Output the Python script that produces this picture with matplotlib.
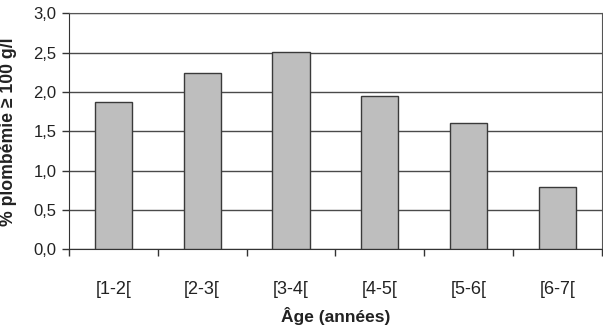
import numpy as np
import matplotlib.pyplot as plt
from matplotlib.ticker import FuncFormatter, FixedLocator

plt.rcParams['font.family'] = ['Liberation Sans', 'DejaVu Sans']

categories = ['[1-2[', '[2-3[', '[3-4[', '[4-5[', '[5-6[', '[6-7[']
values = [1.87, 2.24, 2.51, 1.95, 1.61, 0.79]

fig = plt.figure(figsize=(6.03, 3.26), dpi=100)
ax = fig.add_axes([0.1144, 0.2347, 0.8836, 0.7239])

x = np.arange(len(categories))
ax.bar(x, values, width=0.42, color='#bebebe', edgecolor='#3a3a3a', linewidth=1.0, zorder=3)

ax.set_xlim(-0.5, len(categories) - 0.5)
ax.set_ylim(0, 3.0)
ax.set_yticks(np.arange(0, 3.01, 0.5))
ax.yaxis.set_major_formatter(FuncFormatter(lambda v, p: f'{v:.1f}'.replace('.', ',')))
ax.grid(axis='y', color='#4a4a4a', linewidth=1.0, zorder=0)

# ticks at category boundaries, labels at centres
ax.xaxis.set_major_locator(FixedLocator(np.arange(-0.5, len(categories), 1.0)))
ax.xaxis.set_major_formatter(FuncFormatter(lambda v, p: ''))
ax.xaxis.set_minor_locator(FixedLocator(x))
ax.set_xticklabels(categories, minor=True)
ax.tick_params(axis='x', which='major', length=5, width=1, color='#333333', direction='out')
ax.tick_params(axis='x', which='minor', length=0, pad=23, labelsize=13, labelcolor='#222222')
ax.tick_params(axis='y', length=5, width=1, color='#333333', labelsize=12, labelcolor='#222222', pad=4)

for s in ['left', 'bottom']:
    ax.spines[s].set_color('#333333')
for s in ['top', 'right']:
    ax.spines[s].set_color('#555555')

ax.set_xlabel('Âge (années)', fontsize=12.5, fontweight='bold', color='#222222')
ax.set_ylabel('% plombémie ≥ 100 g/l', fontsize=12.7, fontweight='bold', color='#222222')
ax.xaxis.set_label_coords(0.5, -0.245)
ax.yaxis.set_label_coords(-0.098, 0.5)

fig.savefig('out.png', dpi=100)
